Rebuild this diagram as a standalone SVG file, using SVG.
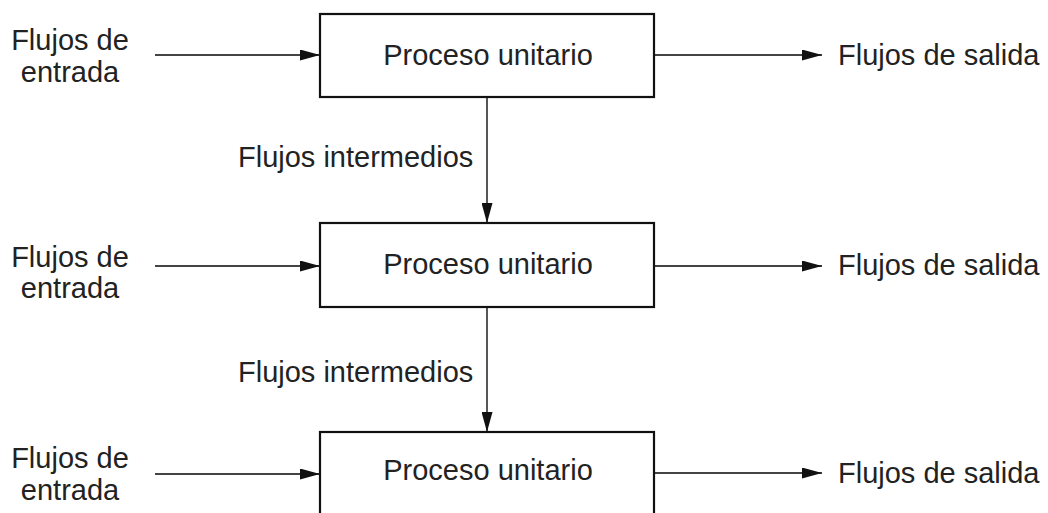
<svg xmlns="http://www.w3.org/2000/svg" width="1048" height="513" viewBox="0 0 1048 513">
<style>
text{font-family:"Liberation Sans",Arial,sans-serif;font-size:29px;fill:#222}
.box{fill:#fff;stroke:#111;stroke-width:2.2}
.ln{stroke:#444;stroke-width:1.8;fill:none}
</style>
<defs>
<marker id="ah" viewBox="0 0 20 11" refX="20" refY="5.5" markerWidth="20" markerHeight="11" markerUnits="userSpaceOnUse" orient="auto">
<path d="M0,0 L20,5.5 L0,11 Z" fill="#111"/>
</marker>
</defs>
<rect width="1048" height="513" fill="#fff"/>
<g id="connectors">
<line class="ln" x1="155" y1="55" x2="320" y2="55" marker-end="url(#ah)"/>
<line class="ln" x1="654" y1="55" x2="822" y2="55" marker-end="url(#ah)"/>
<line class="ln" x1="487" y1="97" x2="487" y2="223" marker-end="url(#ah)"/>
<line class="ln" x1="155" y1="266" x2="320" y2="266" marker-end="url(#ah)"/>
<line class="ln" x1="654" y1="266" x2="822" y2="266" marker-end="url(#ah)"/>
<line class="ln" x1="487" y1="307" x2="487" y2="432" marker-end="url(#ah)"/>
<line class="ln" x1="155" y1="474" x2="320" y2="474" marker-end="url(#ah)"/>
<line class="ln" x1="654" y1="473" x2="822" y2="473" marker-end="url(#ah)"/>
<text x="238" y="167">Flujos intermedios</text>
<text x="238" y="382">Flujos intermedios</text>
</g>
<g id="p1"><rect class="box" x="320" y="14" width="334" height="83"/><text x="488" y="65" text-anchor="middle">Proceso unitario</text></g>
<g id="p2"><rect class="box" x="320" y="223" width="334" height="84"/><text x="488" y="274" text-anchor="middle">Proceso unitario</text></g>
<g id="p3"><rect class="box" x="320" y="432" width="334" height="100"/><text x="488" y="480" text-anchor="middle">Proceso unitario</text></g>
<g id="in1"><text x="70" y="50" text-anchor="middle">Flujos de</text><text x="70" y="82" text-anchor="middle">entrada</text></g>
<g id="in2"><text x="70" y="267" text-anchor="middle">Flujos de</text><text x="70" y="298" text-anchor="middle">entrada</text></g>
<g id="in3"><text x="70" y="468" text-anchor="middle">Flujos de</text><text x="70" y="500" text-anchor="middle">entrada</text></g>
<g id="out1"><text x="838" y="65">Flujos de salida</text></g>
<g id="out2"><text x="838" y="275">Flujos de salida</text></g>
<g id="out3"><text x="838" y="483">Flujos de salida</text></g>
</svg>
